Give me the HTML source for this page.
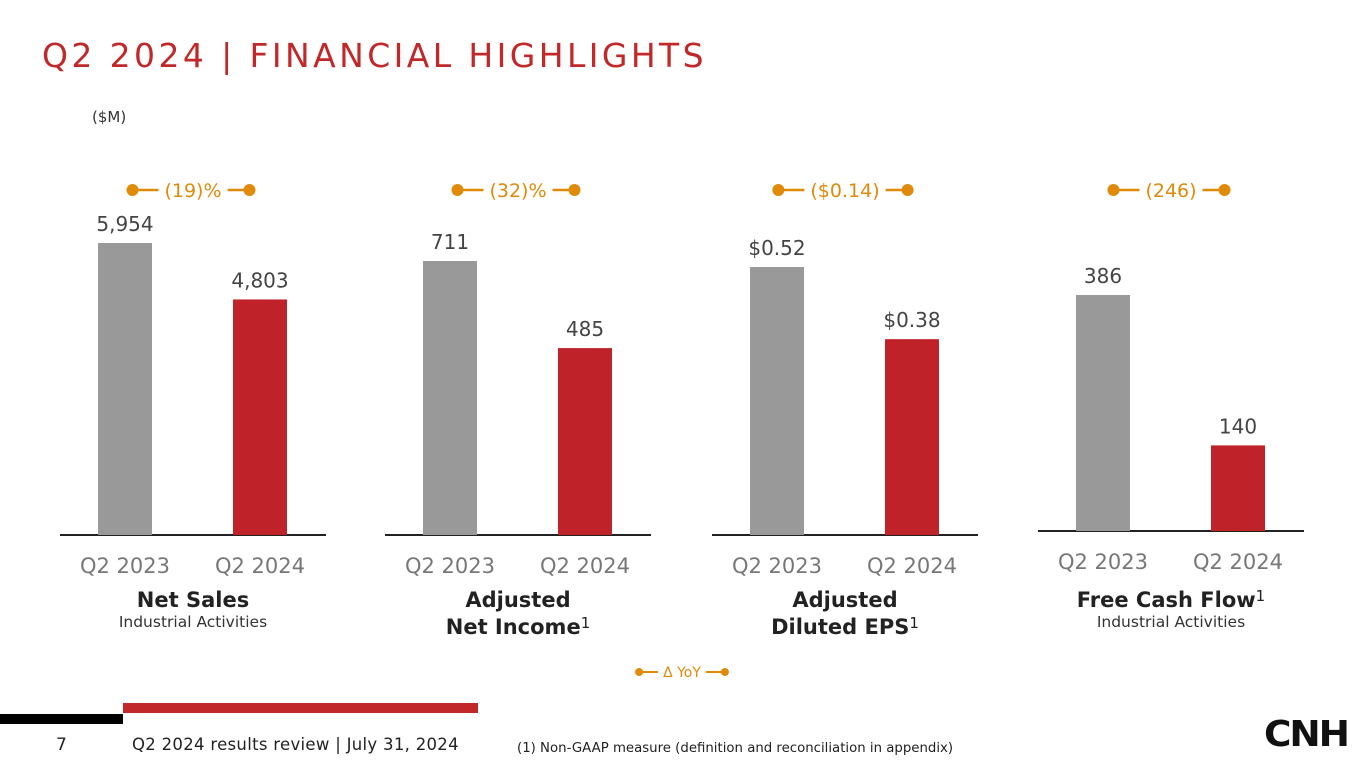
<!DOCTYPE html>
<html><head><meta charset="utf-8">
<style>
body{margin:0;width:1365px;height:768px;background:#fff;overflow:hidden;font-family:"DejaVu Sans","Liberation Sans",sans-serif;position:relative}
.t{position:absolute;white-space:nowrap}
</style></head>
<body>
<div class="t" style="left:42px;top:36px;font-size:33px;color:#c0282a;letter-spacing:3.4px">Q2 2024 | FINANCIAL HIGHLIGHTS</div>
<div class="t" style="left:92px;top:108px;font-size:15px;color:#333">($M)</div>
<svg id="chart" width="1365" height="768" style="position:absolute;left:0;top:0"></svg>
<div style="position:absolute;left:0;top:714px;width:123px;height:10px;background:#000"></div>
<div style="position:absolute;left:123px;top:703px;width:355px;height:10px;background:#c0282a"></div>
<div class="t" style="left:56px;top:735px;font-size:17px;color:#222">7</div>
<div class="t" style="left:132px;top:735px;font-size:16.5px;letter-spacing:0.3px;color:#222">Q2 2024 results review | July 31, 2024</div>
<div class="t" style="left:517px;top:741px;font-size:13.3px;color:#222">(1) Non-GAAP measure (definition and reconciliation in appendix)</div>
<div class="t" style="left:1264px;top:714px;font-size:36px;font-weight:bold;color:#111;letter-spacing:-2px;transform:scaleX(1.04);transform-origin:left">CNH</div>
<script>
const categories=["Q2 2023","Q2 2024"];
const panelTitles=["Net Sales","Adjusted<br>Net Income<sup>1</sup>","Adjusted<br>Diluted EPS<sup>1</sup>","Free Cash Flow<sup>1</sup>"];
const panelSubs=["Industrial Activities","","","Industrial Activities"];
const prevValues=[5954,711,0.52,386];
const currValues=[4803,485,0.38,140];
const valueLabelsPrev=["5,954","711","$0.52","386"];
const valueLabelsCurr=["4,803","485","$0.38","140"];
const deltaLabels=["(19)%","(32)%","($0.14)","(246)"];
const maxVals=[5954,711,0.52,386];
const svg=document.getElementById('chart');
const NS="http://www.w3.org/2000/svg";
const lefts=[60,385,712,1038];
const bases=[535,535,535,531];
const tops=[243,261,267,295];
function mk(tag,attrs){const e=document.createElementNS(NS,tag);for(const k in attrs)e.setAttribute(k,attrs[k]);svg.appendChild(e);return e;}
function txt(x,y,s,size,fill,name){const e=mk('text',{x:x,y:y,'text-anchor':'middle','font-size':size,fill:fill,'font-family':'DejaVu Sans, sans-serif'});e.textContent=s;


return e;}
for(let i=0;i<4;i++){
  const L=lefts[i],B=bases[i];
  const yScale=v=>B-(v/maxVals[i])*(B-tops[i]);
  const ax=mk('line',{x1:L,x2:L+266,y1:B,y2:B,stroke:'#222','stroke-width':2});
  
  
  const vals=[prevValues[i],currValues[i]],labs=[valueLabelsPrev[i],valueLabelsCurr[i]],cols=['#999999','#c0222a'];
  for(let j=0;j<2;j++){
    const cx=L+65+j*135;
    const y=yScale(vals[j]);
    const r=mk('rect',{x:cx-27,y:y,width:54,height:B-y,fill:cols[j]});
    
    
    txt(cx,y-12,labs[j],20,'#444','value-label');
    txt(cx,B+38,categories[j],21,'#777','x-tick-label');
  }
  const cx=L+133;
  const d=txt(cx,197,deltaLabels[i],19,'#e08a0a','delta-label');
  const w=d.getComputedTextLength();
  const ln1=mk('line',{x1:cx-w/2-28,x2:cx-w/2-6,y1:190,y2:190,stroke:'#e08a0a','stroke-width':2.5});
  
  const ln2=mk('line',{x1:cx+w/2+6,x2:cx+w/2+26,y1:190,y2:190,stroke:'#e08a0a','stroke-width':2.5});
  
  const d1=mk('circle',{cx:cx-w/2-32,cy:190,r:6,fill:'#e08a0a'});
  
  const d2=mk('circle',{cx:cx+w/2+28,cy:190,r:6,fill:'#e08a0a'});
  
  const t=document.createElement('div');
  t.className='t';
  
  
  t.style.cssText='left:'+(cx-150)+'px;width:300px;top:587px;text-align:center;font-size:21px;font-weight:bold;color:#222;line-height:27px';
  t.innerHTML=panelTitles[i].replace(/<sup>1<\/sup>/,'<span style="font-weight:normal;font-size:15px;vertical-align:6px;line-height:0">1</span>')+(panelSubs[i]?'<div style="font-size:15.5px;font-weight:normal;line-height:16px;color:#333">'+panelSubs[i]+'</div>':'');
  document.body.appendChild(t);
}
const lc=682;
const lt=txt(lc,677,'Δ YoY',14,'#e08a0a','yoy-legend-label');
const lw=lt.getComputedTextLength();
const a=mk('line',{x1:lc-lw/2-22,x2:lc-lw/2-5,y1:672,y2:672,stroke:'#e08a0a','stroke-width':2});

const b=mk('line',{x1:lc+lw/2+5,x2:lc+lw/2+22,y1:672,y2:672,stroke:'#e08a0a','stroke-width':2});

const c1=mk('circle',{cx:lc-lw/2-24,cy:672,r:4,fill:'#e08a0a'});

const c2=mk('circle',{cx:lc+lw/2+24,cy:672,r:4,fill:'#e08a0a'});

</script>
</body></html>
